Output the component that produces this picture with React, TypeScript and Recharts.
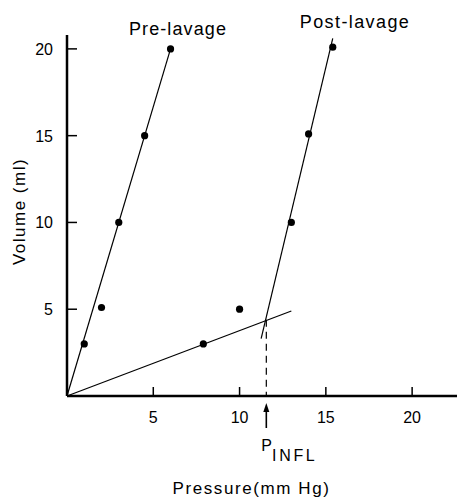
import { ComposedChart, XAxis, YAxis, Scatter, ReferenceLine } from 'recharts'

// measured points (pressure mm Hg, volume ml)
const preLavage = [
  { x: 1, y: 3 },
  { x: 2, y: 5.1 },
  { x: 3, y: 10 },
  { x: 4.5, y: 15 },
  { x: 6, y: 20 },
]
const postLavage = [
  { x: 7.9, y: 3 },
  { x: 10, y: 5 },
  { x: 13, y: 10 },
  { x: 14, y: 15.1 },
  { x: 15.4, y: 20.1 },
]

// hand-drawn fit lines
const preFit = [{ x: 0, y: 0 }, { x: 6, y: 20 }]
const postFit = [{ x: 11.25, y: 3.3 }, { x: 15.4, y: 20.6 }]
const lowFit = [{ x: 0, y: 0 }, { x: 13, y: 4.9 }]

const inflX = 11.55
const inflY = 4.4

const xTicks = [5, 10, 15, 20]
const yTicks = [5, 10, 15, 20]

const FONT = "'Liberation Sans', Arial, sans-serif"

function XTick(props: any) {
  const { x, y, payload } = props
  if (payload.value === inflX) {
    return (
      <g>
        <line x1={x} y1={y + 12} x2={x} y2={y + 32} stroke="#000" strokeWidth={1.6} />
        <polygon points={`${x},${y + 7} ${x - 3},${y + 16} ${x + 3},${y + 16}`} fill="#000" />
        <text x={x - 5} y={y + 55} fontFamily={FONT} fontSize={16} fill="#000">
          P
          <tspan dy={10} letterSpacing={2.7}>INFL</tspan>
        </text>
      </g>
    )
  }
  return (
    <g>
      <line x1={x} y1={y} x2={x} y2={y - 9} stroke="#000" strokeWidth={1.5} />
      <text x={x} y={y + 27} textAnchor="middle" fontFamily={FONT} fontSize={16} fill="#000">
        {payload.value}
      </text>
    </g>
  )
}

function YTick(props: any) {
  const { x, y, payload } = props
  return (
    <g>
      <line x1={x} y1={y} x2={x + 10} y2={y} stroke="#000" strokeWidth={1.5} />
      <text x={x - 14} y={y + 6} textAnchor="end" fontFamily={FONT} fontSize={16} fill="#000">
        {payload.value}
      </text>
    </g>
  )
}

const dot = (p: any) => <circle cx={p.cx} cy={p.cy} r={3.6} fill="#000" />

export default function App() {
  return (
    <div style={{ position: 'absolute', left: 0, top: 0, width: 457, height: 497, background: '#fff' }}>
      <ComposedChart width={457} height={497} margin={{ top: 35, right: 0, left: 27, bottom: 61 }}>
        <XAxis
          type="number"
          dataKey="x"
          domain={[0, 22.6]}
          ticks={[...xTicks.slice(0, 2), inflX, ...xTicks.slice(2)]}
          allowDataOverflow
          interval={0}
          height={40}
          tickLine={false}
          tickSize={0}
          tickMargin={0}
          axisLine={{ stroke: '#000', strokeWidth: 2.5 }}
          tick={<XTick />}
        />
        <YAxis
          type="number"
          dataKey="y"
          domain={[0, 20.8]}
          ticks={yTicks}
          allowDataOverflow
          interval={0}
          width={40}
          tickLine={false}
          tickSize={0}
          tickMargin={0}
          axisLine={{ stroke: '#000', strokeWidth: 2.5 }}
          tick={<YTick />}
        />
        <ReferenceLine segment={preFit} stroke="#000" strokeWidth={1.2} />
        <ReferenceLine segment={postFit} stroke="#000" strokeWidth={1.2} />
        <ReferenceLine segment={lowFit} stroke="#000" strokeWidth={1.2} />
        <ReferenceLine
          segment={[{ x: inflX, y: inflY }, { x: inflX, y: 0 }]}
          stroke="#000"
          strokeWidth={1.2}
          strokeDasharray="7 5"
        />
        <Scatter data={preLavage} shape={dot} isAnimationActive={false} />
        <Scatter data={postLavage} shape={dot} isAnimationActive={false} />
      </ComposedChart>
      <svg
        width={457}
        height={497}
        style={{ position: 'absolute', left: 0, top: 0, pointerEvents: 'none' }}
      >
        <text x={178} y={35} textAnchor="middle" fontFamily={FONT} fontSize={18} letterSpacing={1.1} fill="#000">
          Pre-lavage
        </text>
        <text x={355} y={28} textAnchor="middle" fontFamily={FONT} fontSize={18} letterSpacing={1.4} fill="#000">
          Post-lavage
        </text>
        <text
          x={0}
          y={0}
          transform="translate(25,211.5) rotate(-90)"
          textAnchor="middle"
          fontFamily={FONT}
          fontSize={17}
          letterSpacing={1.5}
          fill="#000"
        >
          Volume (ml)
        </text>
        <text x={251.5} y={494} textAnchor="middle" fontFamily={FONT} fontSize={17} letterSpacing={1.6} fill="#000">
          Pressure(mm Hg)
        </text>
      </svg>
    </div>
  )
}
